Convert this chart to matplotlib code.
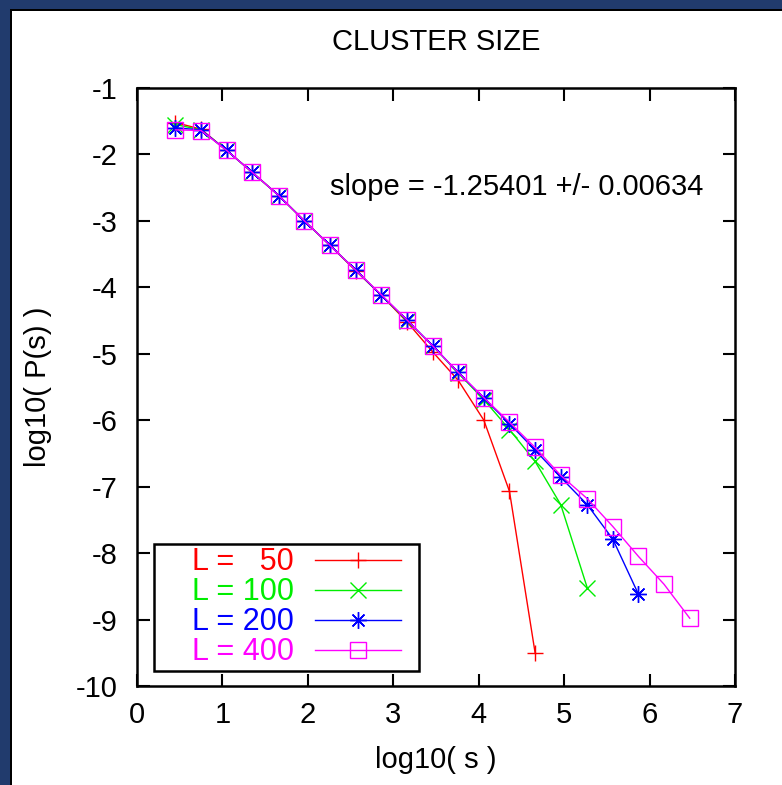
import matplotlib
matplotlib.use("Agg")
import matplotlib.pyplot as plt
from matplotlib.patches import Rectangle

plt.rcParams['font.family'] = ['Liberation Sans', 'DejaVu Sans']
plt.rcParams['axes.unicode_minus'] = False

# ---- data ----
log_s = [0.45, 0.75, 1.05, 1.35, 1.66, 1.96, 2.26, 2.56, 2.86, 3.16, 3.46,
         3.76, 4.06, 4.36, 4.66, 4.96, 5.27, 5.57, 5.87, 6.17, 6.47]

p_L50 = [-1.52, -1.62, -1.94, -2.27, -2.62, -3.00, -3.37, -3.75, -4.12, -4.52,
         -4.97, -5.40, -6.00, -7.07, -9.50]
p_L100 = [-1.55, -1.63, -1.94, -2.27, -2.62, -3.00, -3.37, -3.74, -4.12, -4.50,
          -4.88, -5.29, -5.69, -6.14, -6.62, -7.27, -8.52]
p_L200 = [-1.60, -1.63, -1.94, -2.27, -2.62, -3.00, -3.37, -3.74, -4.12, -4.49,
          -4.88, -5.28, -5.67, -6.05, -6.45, -6.86, -7.27, -7.79, -8.62]
p_L400 = [-1.63, -1.64, -1.94, -2.27, -2.62, -3.00, -3.37, -3.74, -4.11, -4.49,
          -4.88, -5.28, -5.66, -6.03, -6.41, -6.83, -7.18, -7.60, -8.05, -8.47, -8.98]

labels = ["L =   50", "L = 100", "L = 200", "L = 400"]
series = [p_L50, p_L100, p_L200, p_L400]
colors = ["#ff0000", "#00ee00", "#0000ff", "#ff00ff"]
markers = ["+", "x", (8, 2, 0), "s"]
msizes = [12, 12, 12, 11]

x_ticks = [0, 1, 2, 3, 4, 5, 6, 7]
y_ticks = [-1, -2, -3, -4, -5, -6, -7, -8, -9, -10]

title = "CLUSTER SIZE"
xlabel = "log10( s )"
ylabel = "log10( P(s) )"
note = "slope = -1.25401 +/- 0.00634"

# ---- figure ----
W, H = 782, 785
fig = plt.figure(figsize=(W / 100, H / 100), dpi=100)
fig.patch.set_facecolor("white")

# frame decoration (top and left)
border = "#213b6d"
fig.patches.append(Rectangle((0, 1 - 9 / H), 1, 9 / H, transform=fig.transFigure,
                             facecolor=border, edgecolor="none", zorder=0))
fig.patches.append(Rectangle((0, 1 - 11 / H), 1, 2 / H, transform=fig.transFigure,
                             facecolor="black", edgecolor="none", zorder=0))
fig.patches.append(Rectangle((0, 0), 10 / W, 1, transform=fig.transFigure,
                             facecolor=border, edgecolor="none", zorder=0))
fig.patches.append(Rectangle((10 / W, 0), 2 / W, 1 - 9 / H, transform=fig.transFigure,
                             facecolor="black", edgecolor="none", zorder=0))

ax = fig.add_axes([137 / W, 1 - 686 / H, (735 - 137) / W, (686 - 88) / H])

for ys, lab, c, m, ms in zip(series, labels, colors, markers, msizes):
    kw = dict(color=c, lw=1.0, marker=m, markersize=ms, markeredgewidth=1.0,
              label=lab)
    if m == "s":
        kw.update(markerfacecolor="none", markeredgecolor=c)
    ax.plot(log_s[:len(ys)], ys, **kw)

ax.set_xlim(0, 7)
ax.set_ylim(-10, -1)
ax.set_xticks(x_ticks)
ax.set_yticks(y_ticks)
ax.tick_params(direction="in", length=9, width=1.5, top=True, right=True,
               labelsize=21)
ax.tick_params(axis="y", pad=14)
ax.tick_params(axis="x", pad=11)
for sp in ax.spines.values():
    sp.set_linewidth(1.8)

ax.set_title(title, fontsize=21, pad=27)
ax.set_xlabel(xlabel, fontsize=21, labelpad=12)
ax.set_ylabel(ylabel, fontsize=21, labelpad=17)

ax.text(0.323, 0.834, note, transform=ax.transAxes, fontsize=21,
        ha="left", va="center")

leg = ax.legend(loc="lower left",
                bbox_to_anchor=((154 - 137) / 598, (686 - 671) / 598,
                                (419 - 154) / 598, 0.2),
                mode="expand", borderaxespad=0,
                markerfirst=False, fontsize=22, labelcolor="linecolor",
                fancybox=False, framealpha=1, edgecolor="black",
                handlelength=2.8, handletextpad=0.7, labelspacing=0.0,
                borderpad=0.12)
leg.get_frame().set_linewidth(1.8)
for t in leg.get_texts():
    t.set_text("    " + t.get_text())

fig.savefig("out.png", dpi=100)
